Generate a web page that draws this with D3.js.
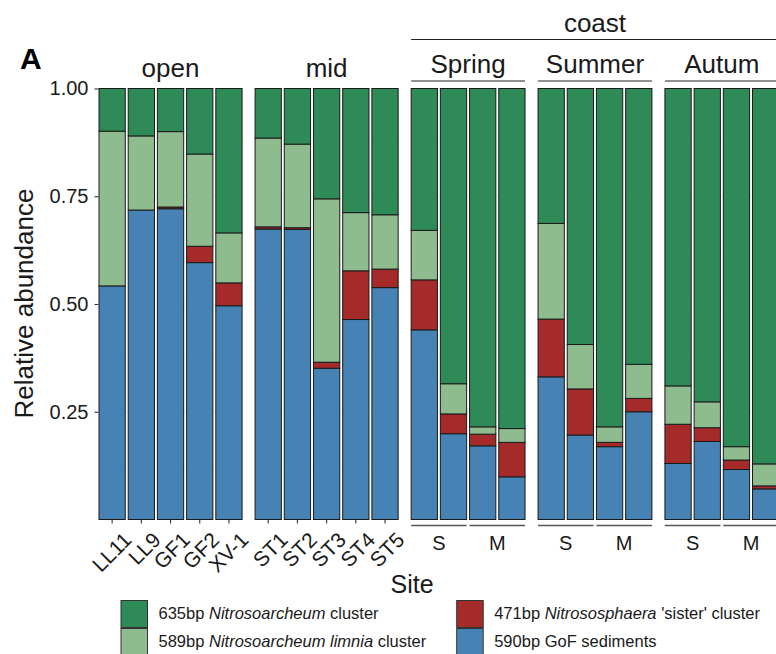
<!DOCTYPE html>
<html>
<head>
<meta charset="utf-8">
<script src="https://cdn.jsdelivr.net/npm/d3@7"></script>
<style>
  html, body { margin: 0; padding: 0; background: #fff; }
  svg { display: block; font-family: "Liberation Sans", Arial, Helvetica, sans-serif; }
</style>
</head>
<body>
<svg id="chart" width="776" height="654"></svg>
<script>
// ---------------- DATA ----------------
const sites = ["LL11","LL9","GF1","GF2","XV-1","ST1","ST2","ST3","ST4","ST5",
  "Sp-S1","Sp-S2","Sp-M1","Sp-M2","Su-S1","Su-S2","Su-M1","Su-M2","Au-S1","Au-S2","Au-M1","Au-M2"];
const sitePanel = ["open","open","open","open","open","mid","mid","mid","mid","mid",
  "Spring","Spring","Spring","Spring","Summer","Summer","Summer","Summer","Autum","Autum","Autum","Autum"];
const siteDepth = ["","","","","","","","","","",
  "S","S","M","M","S","S","M","M","S","S","M","M"];
const panels = ["open","mid","Spring","Summer","Autum"];
const coastPanels = ["Spring","Summer","Autum"];
const coastLabel = "coast";

// segment heights (bottom to top)
const gof590     = [0.542,0.718,0.721,0.596,0.496,0.674,0.673,0.351,0.464,0.538,
  0.440,0.199,0.171,0.099,0.331,0.196,0.169,0.250,0.130,0.181,0.116,0.071];
const sister471  = [0.000,0.000,0.004,0.038,0.053,0.005,0.004,0.014,0.113,0.043,
  0.116,0.046,0.027,0.080,0.134,0.107,0.010,0.031,0.091,0.032,0.022,0.007];
const limnia589  = [0.359,0.172,0.175,0.214,0.116,0.206,0.194,0.379,0.135,0.126,
  0.115,0.070,0.017,0.032,0.222,0.103,0.036,0.079,0.089,0.060,0.031,0.051];
const nitro635   = [0.099,0.110,0.100,0.152,0.335,0.115,0.129,0.256,0.288,0.293,
  0.329,0.685,0.785,0.789,0.313,0.594,0.785,0.640,0.690,0.727,0.831,0.871];

const seriesKeys = ["gof590","sister471","limnia589","nitro635"];
const seriesColors = ["#4682B4","#A52A2A","#8FBC8F","#2E8B57"];
const yTicks = [0.25, 0.5, 0.75, 1.0];

// ---------------- LAYOUT ----------------
const svg = d3.select("#chart");
const plotLeft = 99, step = 29.2, gap = 13;
const yTop = 88.5, yBottom = 519.5;
const y = d3.scaleLinear().domain([0, 1]).range([yBottom, yTop]);

const rows = sites.map((s, i) => ({
  site: s, panel: sitePanel[i], depth: siteDepth[i],
  gof590: gof590[i], sister471: sister471[i], limnia589: limnia589[i], nitro635: nitro635[i]
}));

// panel scales
const panelScale = {};
let cursor = plotLeft;
panels.forEach(p => {
  const dom = sites.filter((s, i) => sitePanel[i] === p);
  const w = step * (dom.length - 0.1);
  panelScale[p] = d3.scaleBand().domain(dom).range([cursor, cursor + w]).paddingInner(0.1).paddingOuter(0);
  cursor += w + gap;
});
const xOf = d => panelScale[d.panel](d.site);

// faint grid
panels.forEach(p => {
  const r = panelScale[p].range();
  const g = svg.append("g");
  d3.range(1, 9).forEach(k => {
    const v = k / 8;
    g.append("line").attr("x1", r[0]).attr("x2", r[1])
      .attr("y1", y(v)).attr("y2", y(v))
      .attr("stroke", "#eeeeee").attr("stroke-width", k % 2 === 0 ? 1 : 0.6);
  });
});

// stacked bars
const stack = d3.stack().keys(seriesKeys);
const stacked = stack(rows);
stacked.forEach((layer, li) => {
  svg.append("g").selectAll("rect").data(layer).join("rect")
    .attr("x", d => xOf(d.data))
    .attr("width", d => panelScale[d.data.panel].bandwidth())
    .attr("y", d => y(d[1]))
    .attr("height", d => Math.max(0, y(d[0]) - y(d[1])))
    .attr("fill", seriesColors[li])
    .attr("stroke", "#1a1a1a").attr("stroke-width", 1);
});

// y axis
const yAxis = d3.axisLeft(y).tickValues(yTicks).tickFormat(d3.format(".2f")).tickSize(4).tickPadding(6);
const yg = svg.append("g").attr("transform", `translate(${plotLeft - 0.5},0)`).call(yAxis);
yg.select(".domain").remove();
yg.selectAll(".tick line").attr("stroke", "#333").attr("stroke-width", 1.1);
yg.selectAll(".tick text").attr("font-size", 20).attr("fill", "#1a1a1a")
  .attr("font-family", "Liberation Sans, Arial, sans-serif");

// x axes for open and mid
["open","mid"].forEach(p => {
  const ax = d3.axisBottom(panelScale[p]).tickSize(4).tickPadding(4);
  const g = svg.append("g").attr("transform", `translate(0,${yBottom})`).call(ax);
  g.select(".domain").remove();
  g.selectAll(".tick line").attr("stroke", "#333").attr("stroke-width", 1.1);
  g.selectAll(".tick text")
    .attr("font-size", 21).attr("fill", "#1a1a1a")
    .attr("font-family", "Liberation Sans, Arial, sans-serif")
    .attr("text-anchor", "end")
    .attr("dy", null).attr("y", null)
    .attr("transform", "translate(10,11) rotate(-45)")
    .attr("dominant-baseline", "hanging");
});

// top strips for open / mid
["open","mid"].forEach(p => {
  const r = panelScale[p].range();
  svg.append("text").attr("x", (r[0] + r[1]) / 2).attr("y", 77)
    .attr("text-anchor", "middle").attr("font-size", 26).attr("fill", "#1a1a1a").text(p);
});

// coast strip
const cL = panelScale[coastPanels[0]].range()[0];
const cR = panelScale[coastPanels[coastPanels.length - 1]].range()[1];
svg.append("line").attr("x1", cL).attr("x2", cR).attr("y1", 39.5).attr("y2", 39.5)
  .attr("stroke", "#222").attr("stroke-width", 1.2);
svg.append("text").attr("x", (cL + cR) / 2).attr("y", 31.5).attr("text-anchor", "middle")
  .attr("font-size", 26).attr("fill", "#1a1a1a").text(coastLabel);

// season strips
coastPanels.forEach(p => {
  const r = panelScale[p].range();
  svg.append("line").attr("x1", r[0]).attr("x2", r[1]).attr("y1", 81).attr("y2", 81)
    .attr("stroke", "#222").attr("stroke-width", 1.2);
  svg.append("text").attr("x", (r[0] + r[1]) / 2).attr("y", 72.5).attr("text-anchor", "middle")
    .attr("font-size", 26).attr("fill", "#1a1a1a").text(p);
  // bottom depth strips
  ["S","M"].forEach(dep => {
    const ss = rows.filter(d => d.panel === p && d.depth === dep);
    const x0 = xOf(ss[0]);
    const x1 = xOf(ss[ss.length - 1]) + panelScale[p].bandwidth();
    svg.append("line").attr("x1", x0).attr("x2", x1).attr("y1", 525.5).attr("y2", 525.5)
      .attr("stroke", "#555").attr("stroke-width", 1.5);
    svg.append("text").attr("x", (x0 + x1) / 2).attr("y", 550).attr("text-anchor", "middle")
      .attr("font-size", 20).attr("fill", "#1a1a1a").text(dep);
  });
});

// axis titles
svg.append("text").attr("x", 412).attr("y", 593).attr("text-anchor", "middle")
  .attr("font-size", 25).attr("fill", "#1a1a1a").text("Site");
svg.append("text").attr("transform", "translate(33,303.5) rotate(-90)")
  .attr("text-anchor", "middle").attr("font-size", 26).attr("fill", "#1a1a1a").text("Relative abundance");

// panel tag
svg.append("text").attr("x", 20).attr("y", 69).attr("font-size", 30).attr("font-weight", "bold")
  .attr("fill", "#000").text("A");

// legend
const legendItems = [
  {key: "nitro635", parts: [["635bp ", false], ["Nitrosoarcheum", true], [" cluster", false]], col: 0, row: 0},
  {key: "limnia589", parts: [["589bp ", false], ["Nitrosoarcheum limnia", true], [" cluster", false]], col: 0, row: 1},
  {key: "sister471", parts: [["471bp ", false], ["Nitrososphaera", true], [" 'sister' cluster", false]], col: 1, row: 0},
  {key: "gof590", parts: [["590bp GoF sediments", false]], col: 1, row: 1}
];
const legX = [121, 456.7], legY = [600.5, 628.5], keyS = 27;
legendItems.forEach(it => {
  const ci = seriesKeys.indexOf(it.key);
  const gx = legX[it.col], gy = legY[it.row];
  svg.append("rect").attr("x", gx).attr("y", gy).attr("width", keyS - 0.5).attr("height", keyS)
    .attr("fill", seriesColors[ci]).attr("stroke", "#333").attr("stroke-width", 1);
  const t = svg.append("text").attr("x", gx + 37.5).attr("y", gy + 18.5)
    .attr("font-size", 16.5).attr("fill", "#1a1a1a");
  it.parts.forEach(([s, ital]) => {
    t.append("tspan").attr("font-style", ital ? "italic" : "normal").text(s);
  });
});
</script>
</body>
</html>
